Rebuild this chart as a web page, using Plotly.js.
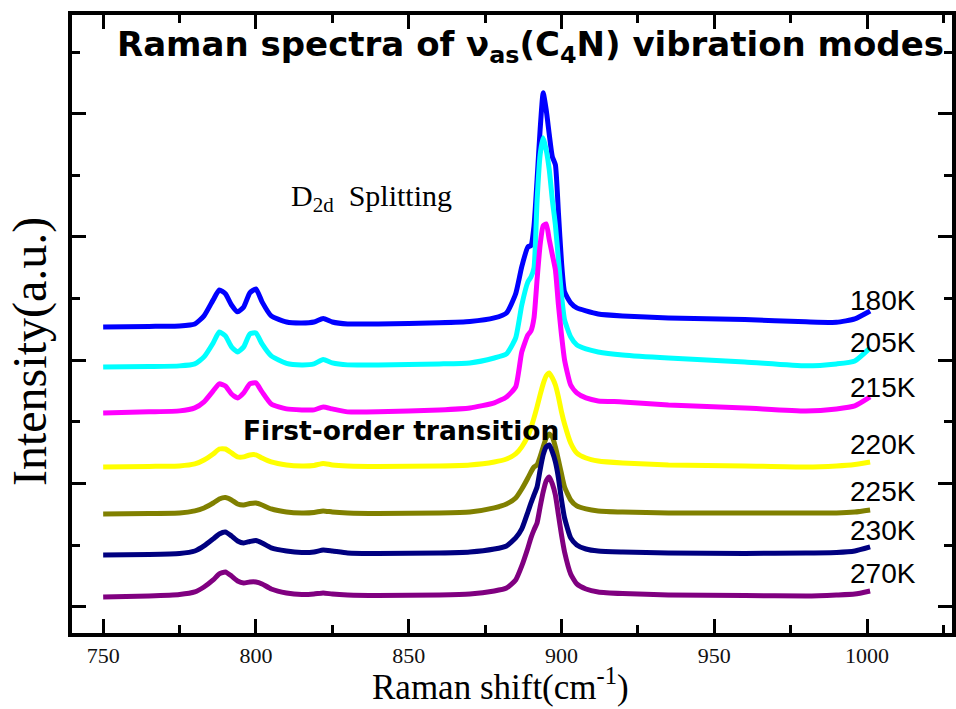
<!DOCTYPE html>
<html>
<head>
<meta charset="utf-8">
<script src="https://cdn.plot.ly/plotly-3.0.1.min.js"></script>
<style>html,body{margin:0;padding:0;background:#fff;}#chart{width:956px;height:709px;}</style>
</head>
<body>
<div id="chart"></div>
<script>
// Raman shift (cm^-1) sample positions shared by all spectra
const ramanShift = [750,765,775,780,783,786,788,790,792,794,796,798,800,802,805,810,815,819,822,825,830,840,860,870,878,882,885,887,889,890,891,892,893,894,895,896,897,898,899,900,901,903,905,908,912,920,935,960,980,990,996,1001];

// Intensities (a.u., stacked with offsets as in the figure)
const i180K = [22.71,22.75,22.79,22.95,23.60,24.90,25.70,25.40,24.49,23.93,24.33,25.47,25.79,24.74,23.60,23.11,23.03,23.11,23.40,23.11,22.95,22.95,23.05,23.15,23.44,23.84,25.40,27.60,29.20,29.30,30.90,34.63,38.69,41.69,40.30,38.30,36.50,35.85,31.95,27.98,25.55,24.66,24.25,24.01,23.76,23.60,23.44,23.30,23.12,23.08,23.36,24.00];
const i205K = [19.46,19.50,19.55,19.71,20.28,21.41,22.30,21.98,21.09,20.68,21.09,22.14,22.22,21.33,20.36,19.75,19.63,19.71,20.07,19.79,19.63,19.63,19.71,19.79,20.19,20.52,21.82,24.49,26.36,26.76,27.49,32.93,36.66,38.04,37.06,35.44,33.01,30.98,28.14,25.30,23.28,21.90,21.25,20.92,20.68,20.44,20.19,19.87,19.55,19.71,19.95,21.01];
const i215K = [15.73,15.82,15.90,16.14,16.63,17.52,18.09,17.92,17.27,16.95,17.36,18.09,18.17,17.44,16.46,16.06,15.98,15.98,16.22,16.06,15.82,15.82,15.98,16.14,16.55,17.03,17.84,20.68,22.06,22.38,23.44,26.52,29.36,30.90,31.06,29.77,28.55,27.33,24.49,22.06,20.03,18.00,17.36,16.95,16.71,16.63,16.38,16.14,15.90,16.06,16.30,17.03];
const i220K = [11.35,11.40,11.44,11.60,11.92,12.41,12.81,12.81,12.49,12.17,12.17,12.33,12.33,12.08,11.76,11.52,11.44,11.48,11.64,11.52,11.44,11.40,11.44,11.52,11.76,12.00,12.41,12.98,13.87,14.52,15.33,16.22,17.19,18.09,18.73,18.98,18.57,18.00,17.03,15.82,14.84,13.30,12.49,12.08,11.84,11.68,11.52,11.44,11.35,11.44,11.56,11.76];
const i225K = [7.54,7.58,7.62,7.79,8.03,8.43,8.76,8.88,8.68,8.35,8.27,8.39,8.43,8.27,7.95,7.70,7.62,7.66,7.79,7.70,7.62,7.58,7.62,7.70,8.03,8.35,8.84,9.57,10.46,10.95,11.35,11.52,12.17,12.98,13.71,14.03,13.79,12.98,11.92,10.79,9.73,8.68,8.19,7.95,7.79,7.70,7.62,7.62,7.62,7.62,7.70,7.87];
const i230K = [4.22,4.26,4.34,4.54,4.95,5.52,5.92,6.08,5.76,5.35,5.19,5.31,5.39,5.19,4.79,4.54,4.42,4.46,4.62,4.54,4.38,4.34,4.38,4.46,4.70,4.95,5.60,6.33,7.70,8.43,9.08,9.73,11.11,12.33,12.98,13.14,12.57,11.76,10.46,8.68,7.22,5.60,5.03,4.70,4.54,4.46,4.38,4.34,4.38,4.42,4.54,4.87];
const i270K = [0.81,0.89,1.01,1.22,1.62,2.19,2.68,2.84,2.51,2.11,1.95,2.03,2.03,1.87,1.46,1.14,1.01,1.05,1.14,1.05,0.97,0.93,0.97,1.05,1.30,1.54,2.19,3.33,4.79,5.60,6.25,6.81,8.11,9.33,10.22,10.54,9.98,9.08,7.46,5.84,4.46,2.68,1.87,1.46,1.22,1.09,0.97,0.93,0.89,0.97,1.05,1.30];

const temperatures = ['180K','205K','215K','220K','225K','230K','270K'];
const spectra = [i180K, i205K, i215K, i220K, i225K, i230K, i270K];
const colors = ['#0000FF','#00FFFF','#FF00FF','#FFFF00','#808000','#000080','#800080'];

const xTickVals = [750,800,850,900,950,1000];

const traces = spectra.map((ys, k) => ({
  type: 'scatter', mode: 'lines', name: temperatures[k],
  x: ramanShift, y: ys,
  line: {color: colors[k], width: 5, shape: 'spline', smoothing: 0.5},
  hoverinfo: 'skip'
}));

const labelAt = ramanShift.indexOf(990);
const annotations = temperatures.map((t, k) => ({
  x: 1016.8, y: spectra[k][labelAt] + 1.75, xref: 'x', yref: 'y',
  text: t, showarrow: false, xanchor: 'right', yanchor: 'middle',
  font: {family: 'Liberation Sans, Arial, sans-serif', size: 28, color: '#000'}
}));
annotations.push({
  x: 810.9, y: 33.2, xref: 'x', yref: 'y', xanchor: 'left', yanchor: 'middle',
  text: 'D<sub>2d</sub>\u00a0\u00a0Splitting', showarrow: false,
  font: {family: 'Liberation Serif, Times New Roman, serif', size: 30, color: '#000'}
});
annotations.push({
  x: 795.1, y: 14.27, xref: 'x', yref: 'y', xanchor: 'left', yanchor: 'middle',
  text: '<b>First-order transition</b>', showarrow: false,
  font: {family: 'DejaVu Sans, sans-serif', size: 26.5, color: '#000'}
});
// axis titles placed as in the reference
annotations.push({
  x: (30 - 72) / 880, y: (633 - 352) / 618, xref: 'paper', yref: 'paper',
  xanchor: 'center', yanchor: 'middle', textangle: -90, showarrow: false,
  text: 'Intensity(a.u.)',
  font: {family: 'Liberation Serif, Times New Roman, serif', size: 48, color: '#000'}
});
annotations.push({
  x: (500 - 72) / 880, y: (633 - 684) / 618, xref: 'paper', yref: 'paper',
  xanchor: 'center', yanchor: 'middle', showarrow: false,
  text: 'Raman shift(cm<sup>-1</sup>)',
  font: {family: 'Liberation Serif, Times New Roman, serif', size: 35, color: '#000'}
});

const layout = {
  width: 956, height: 709,
  margin: {l: 72, r: 4, t: 15, b: 76},
  paper_bgcolor: '#fff', plot_bgcolor: '#fff',
  showlegend: false,
  title: {
    text: '<b>Raman spectra of \u03bd<sub>as</sub>(C<sub>4</sub>N) vibration modes</b>',
    xref: 'container', yref: 'container', x: 117/956, xanchor: 'left',
    y: 1 - 44/709, yanchor: 'middle',
    font: {family: 'DejaVu Sans, sans-serif', size: 34, color: '#000'}
  },
  xaxis: {
    range: [739.8, 1027.8], tickvals: xTickVals, ticktext: xTickVals.map(String),
    ticks: 'inside', ticklen: 14, tickwidth: 3, tickcolor: '#000',
    minor: {dtick: 25, tick0: 750, ticks: 'inside', ticklen: 8, tickwidth: 3, tickcolor: '#000', showgrid: false},
    showline: true, linewidth: 4, linecolor: '#000', mirror: 'allticks',
    showgrid: false, zeroline: false,
    tickfont: {family: 'Liberation Serif, Times New Roman, serif', size: 22, color: '#111'}
  },
  yaxis: {
    range: [-2.11, 48.0], tick0: 0, dtick: 10,
    ticks: 'inside', ticklen: 14, tickwidth: 3, tickcolor: '#000',
    minor: {dtick: 5, tick0: 0, ticks: 'inside', ticklen: 8, tickwidth: 3, tickcolor: '#000', showgrid: false},
    showticklabels: false,
    showline: true, linewidth: 4, linecolor: '#000', mirror: 'allticks',
    showgrid: false, zeroline: false
  },
  annotations: annotations
};

Plotly.newPlot('chart', traces, layout, {displayModeBar: false, staticPlot: true});
</script>
</body>
</html>
